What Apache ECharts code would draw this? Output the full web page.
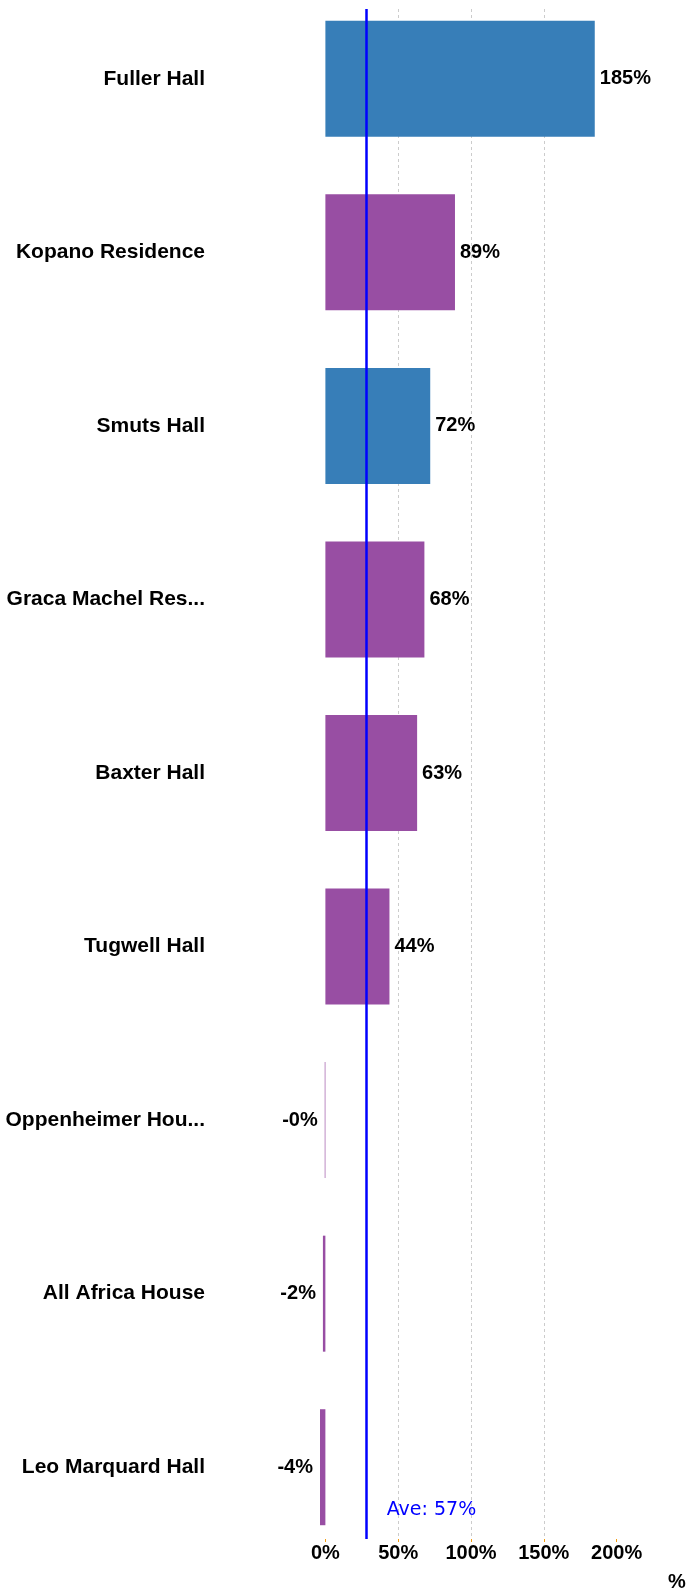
<!DOCTYPE html>
<html>
<head>
<meta charset="utf-8">
<script src="https://cdn.jsdelivr.net/npm/echarts@6/dist/echarts.min.js"></script>
<style>
html,body{margin:0;padding:0;background:#fff;}
#chart{width:687px;height:1590px;}
</style>
</head>
<body>
<div id="chart"></div>
<script>
// ---- data ----
var categories = ['Fuller Hall','Kopano Residence','Smuts Hall','Graca Machel Residence','Baxter Hall','Tugwell Hall','Oppenheimer House','All Africa House','Leo Marquard Hall'];
var values = [185, 89, 72, 68, 63, 44, -0.45, -1.7, -3.7];
var blueGroup = ['Fuller Hall', 'Smuts Hall'];
var xTicks = [0, 50, 100, 150, 200];
var avgLinePos = 28.4;   // where the reference draws its average line
var xMin = -3.7, xMax = 225;

var avg = values.reduce(function(a,b){return a+b;},0) / values.length;
var BLUE = '#377eb8', PURPLE = '#984ea3';
var FONT = 'Liberation Sans, Arial, sans-serif';

var barData = values.map(function(v, i){
  var item = {
    value: v,
    itemStyle: {color: blueGroup.indexOf(categories[i]) >= 0 ? BLUE : PURPLE}
  };
  if (v < 0) item.label = {position: 'left', distance: 7};
  return item;
});

var chart = echarts.init(document.getElementById('chart'), null, {renderer: 'canvas'});
chart.setOption({
  animation: false,
  backgroundColor: '#fff',
  grid: [
    {left: 320, right: 34, top: 9, height: 1530, outerBoundsMode: 'none', containLabel: false},
    {left: 320, right: 34, top: -8, height: 1562, outerBoundsMode: 'none', containLabel: false}
  ],
  xAxis: [
    {
      type: 'value', gridIndex: 0, min: xMin, max: xMax,
      name: '%', nameLocation: 'end', nameGap: 15,
      nameTextStyle: {fontFamily: FONT, fontWeight: 'bold', fontSize: 20, color: '#000', verticalAlign: 'top', align: 'left', padding: [33, 0, 0, 0]},
      axisLine: {show: false},
      axisTick: {show: true, length: 3, lineStyle: {color: '#f39c12'}, customValues: xTicks},
      axisLabel: {customValues: xTicks, formatter: '{value}%', fontFamily: FONT, fontWeight: 'bold', fontSize: 20, color: '#000', margin: 4},
      splitLine: {show: true, showMinLine: false, showMaxLine: false, lineStyle: {color: '#cccccc', type: [3, 3], width: 1}}
    },
    {
      type: 'value', gridIndex: 1, min: xMin, max: xMax,
      axisLine: {show: false}, axisTick: {show: false}, axisLabel: {show: false}, splitLine: {show: false}
    }
  ],
  yAxis: [
    {type: 'value', gridIndex: 0, min: 0, max: 1, show: false},
    {
      type: 'category', gridIndex: 1, inverse: true, data: categories,
      axisLine: {show: false}, axisTick: {show: false}, splitLine: {show: false},
      axisLabel: {fontFamily: FONT, fontWeight: 'bold', fontSize: 21, color: '#000', margin: 115, width: 202, overflow: 'truncate'}
    }
  ],
  series: [
    {
      type: 'bar', xAxisIndex: 1, yAxisIndex: 1,
      data: barData,
      barWidth: 116,
      label: {
        show: true, position: 'right', distance: 5,
        fontFamily: FONT, fontWeight: 'bold', fontSize: 20, color: '#000',
        formatter: function(p){ return p.value.toFixed(0) + '%'; }
      }
    },
    {
      type: 'scatter', xAxisIndex: 0, yAxisIndex: 0, data: [],
      markLine: {
        silent: true, symbol: 'none',
        lineStyle: {color: '#0000ff', width: 2.5, type: 'solid'},
        label: {
          show: true, position: 'start', distance: [0, -29],
          align: 'left', verticalAlign: 'middle', padding: [0, 0, 0, 20],
          color: '#0000ff', fontSize: 19, fontFamily: 'DejaVu Sans, sans-serif',
          formatter: 'Ave: ' + Math.round(avg) + '%'
        },
        data: [{xAxis: avgLinePos}]
      }
    }
  ]
});
</script>
</body>
</html>
